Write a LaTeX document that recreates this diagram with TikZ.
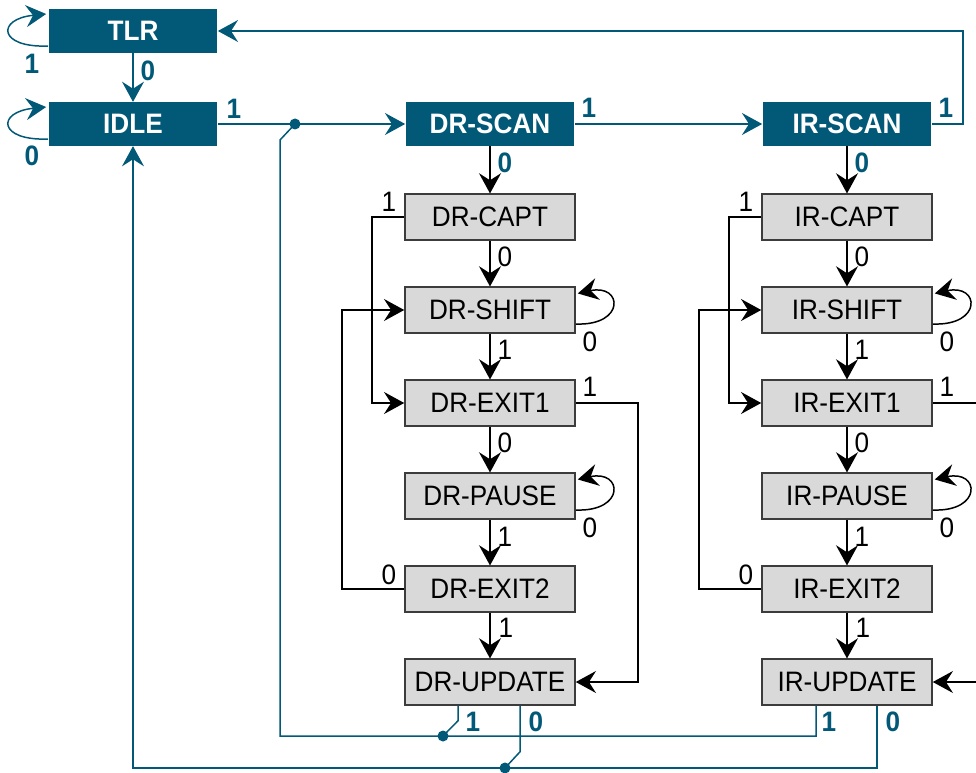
\documentclass[tikz,border=0pt]{standalone}
\usepackage{fontspec}
\setmainfont{Liberation Sans}[FakeStretch=0.93]
\usetikzlibrary{arrows.meta,calc}

\definecolor{jtagteal}{RGB}{2,89,119}
\definecolor{boxgray}{RGB}{217,217,217}
\definecolor{boxedge}{RGB}{60,60,60}

\tikzset{
  txt/.style={font=\fontsize{16}{18}\selectfont},
  tapstate/.style={fill=jtagteal, text=white, font=\fontsize{16}{18}\selectfont\bfseries,
    minimum width=3.38cm, minimum height=0.87cm, inner sep=0pt},
  regstate/.style={txt, fill=boxgray, draw=boxedge, line width=0.9pt,
    minimum width=3.4cm, minimum height=0.91cm, inner sep=0pt},
  lab/.style={txt, inner sep=0pt},
  tlab/.style={lab, text=jtagteal, font=\fontsize{16}{18}\selectfont\bfseries},
  tip/.style={-{Stealth[length=11.5pt,width=12.5pt,inset=4pt]}},
  barr/.style={tip, line width=0.85pt},
  tline/.style={jtagteal, line width=0.85pt},
  tarr/.style={tline, tip},
  jdot/.style={fill=jtagteal}
}

\begin{document}
\begin{tikzpicture}[x=0.02cm, y=-0.02cm]
    \useasboundingbox (0,0) rectangle (976,773);
    \clip (0,0) rectangle (976,773);

    % states
    \node[tapstate] (tlr) at (133,31) {TLR};
    \node[tapstate] (idle) at (133,124) {IDLE};
    \node[tapstate] (drscan) at (490,124) {DR-SCAN};
    \node[tapstate] (irscan) at (847,124) {IR-SCAN};

    \node[regstate] (drcapt) at (490,217) {DR-CAPT};
    \node[regstate] (drshift) at (490,310) {DR-SHIFT};
    \node[regstate] (drexit1) at (490,403) {DR-EXIT1};
    \node[regstate] (drpause) at (490,496) {DR-PAUSE};
    \node[regstate] (drexit2) at (490,589) {DR-EXIT2};
    \node[regstate] (drupdate) at (490,682) {DR-UPDATE};

    \node[regstate] (ircapt) at (847,217) {IR-CAPT};
    \node[regstate] (irshift) at (847,310) {IR-SHIFT};
    \node[regstate] (irexit1) at (847,403) {IR-EXIT1};
    \node[regstate] (irpause) at (847,496) {IR-PAUSE};
    \node[regstate] (irexit2) at (847,589) {IR-EXIT2};
    \node[regstate] (irupdate) at (847,682) {IR-UPDATE};

    % junctions
    \coordinate (jtop) at (295,124);
    \coordinate (jdr1) at (443,736);
    \coordinate (jdr0) at (505,768);

    % teal transitions
    \draw[tarr] ($(tlr.west)+(0,15)$) .. controls +(-50,2) and +(-50,5) .. ($(tlr.west)+(-2,-17)$);
    \draw[tarr] ($(idle.west)+(0,15)$) .. controls +(-50,2) and +(-50,5) .. ($(idle.west)+(-2,-17)$);
    \draw[tarr] (tlr) -- (idle);
    \draw[tarr] (idle) -- (drscan);
    \draw[tarr] (drscan) -- (irscan);
    \draw[tarr] (irscan.east) -- ++(31,0) |- (tlr.east);
    \draw[tline] ($(irupdate.south west)+(55,0)$) |- (jdr1) -| ($(jtop)+(-15,16)$) -- (jtop);
    \draw[tline] ($(drupdate.south west)+(54,0)$) -- ++(0,15) -- (jdr1);
    \draw[tarr] ($(irupdate.south west)+(116,0)$) |- (jdr0) -| (idle.south);
    \draw[tline] ($(drupdate.south west)+(116,0)$) -- ++(0,46) -- (jdr0);
    \fill[jdot] (jtop) circle[radius=0.11cm];
    \fill[jdot] (jdr1) circle[radius=0.11cm];
    \fill[jdot] (jdr0) circle[radius=0.11cm];

    % DR column
    \draw[barr] (drscan) -- (drcapt);
    \draw[barr] (drcapt) -- (drshift);
    \draw[barr] (drshift) -- (drexit1);
    \draw[barr] (drexit1) -- (drpause);
    \draw[barr] (drpause) -- (drexit2);
    \draw[barr] (drexit2) -- (drupdate);
    \draw[barr] (drcapt.west) -- ++(-32,0) |- (drexit1.west);
    \draw[barr] (drexit2.west) -- ++(-62,0) |- (drshift.west);
    \draw[barr] (drexit1.east) -- ++(62,0) |- (drupdate.east);
    \draw[barr] ($(drshift.east)+(0,14)$) .. controls +(50,2) and +(45,-10) .. ($(drshift.north east)+(2,7)$);
    \draw[barr] ($(drpause.east)+(0,14)$) .. controls +(50,2) and +(45,-10) .. ($(drpause.north east)+(2,7)$);

    % IR column
    \draw[barr] (irscan) -- (ircapt);
    \draw[barr] (ircapt) -- (irshift);
    \draw[barr] (irshift) -- (irexit1);
    \draw[barr] (irexit1) -- (irpause);
    \draw[barr] (irpause) -- (irexit2);
    \draw[barr] (irexit2) -- (irupdate);
    \draw[barr] (ircapt.west) -- ++(-32,0) |- (irexit1.west);
    \draw[barr] (irexit2.west) -- ++(-62,0) |- (irshift.west);
    \draw[barr] (irexit1.east) -- ++(62,0) |- (irupdate.east);
    \draw[barr] ($(irshift.east)+(0,14)$) .. controls +(50,2) and +(45,-10) .. ($(irshift.north east)+(2,7)$);
    \draw[barr] ($(irpause.east)+(0,14)$) .. controls +(50,2) and +(45,-10) .. ($(irpause.north east)+(2,7)$);

    % teal labels
    \node[tlab] (l-tlr1) at (32,64) {1};
    \node[tlab] (l-tlr0) at (148,71) {0};
    \node[tlab] (l-idle0) at (32,156) {0};
    \node[tlab] (l-idle1) at (234,109) {1};
    \node[tlab] (l-drscan1) at (589,108) {1};
    \node[tlab] (l-irscan1) at (946,108) {1};
    \node[tlab] (l-drscan0) at (505,163) {0};
    \node[tlab] (l-irscan0) at (862,163) {0};
    \node[tlab] (l-drupd1) at (473,722) {1};
    \node[tlab] (l-drupd0) at (536,722) {0};
    \node[tlab] (l-irupd1) at (829,722) {1};
    \node[tlab] (l-irupd0) at (893,722) {0};

    % black labels
    \node[lab] (l-drcapt1) at (389,202) {1};
    \node[lab] (l-drcapt0) at (505,257) {0};
    \node[lab] (l-drshift0) at (590,342) {0};
    \node[lab] (l-drshift1) at (505,350) {1};
    \node[lab] (l-drexit11) at (590,387) {1};
    \node[lab] (l-drexit10) at (505,443) {0};
    \node[lab] (l-drpause0) at (590,528) {0};
    \node[lab] (l-drpause1) at (505,537) {1};
    \node[lab] (l-drexit20) at (389,575) {0};
    \node[lab] (l-drexit21) at (506,628) {1};

    \node[lab] (l-ircapt1) at (746,202) {1};
    \node[lab] (l-ircapt0) at (862,257) {0};
    \node[lab] (l-irshift0) at (947,342) {0};
    \node[lab] (l-irshift1) at (862,350) {1};
    \node[lab] (l-irexit11) at (947,387) {1};
    \node[lab] (l-irexit10) at (862,443) {0};
    \node[lab] (l-irpause0) at (947,528) {0};
    \node[lab] (l-irpause1) at (862,537) {1};
    \node[lab] (l-irexit20) at (746,575) {0};
    \node[lab] (l-irexit21) at (863,628) {1};
\end{tikzpicture}
\end{document}
